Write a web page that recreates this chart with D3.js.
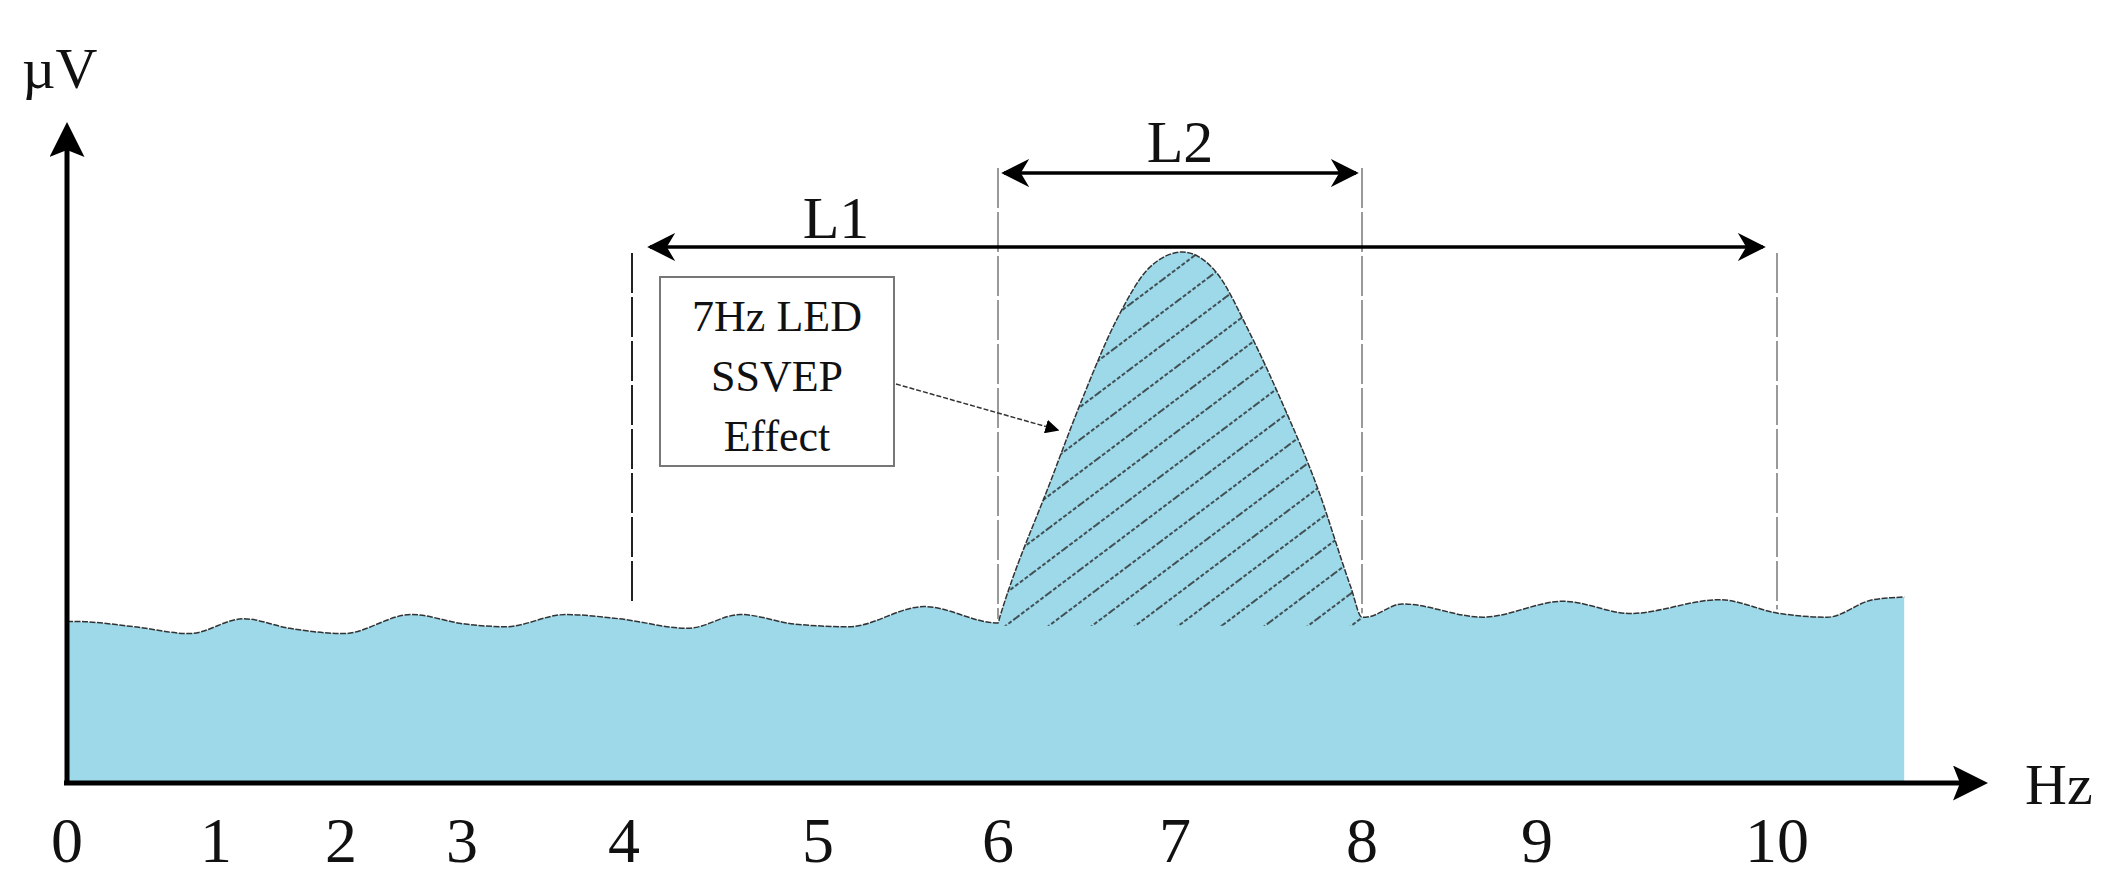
<!DOCTYPE html><html><head><meta charset="utf-8">
<script src="https://cdn.jsdelivr.net/npm/d3@7"></script>
<style>body{margin:0;background:#fff}text{font-family:"Liberation Serif","Times New Roman",serif;fill:#111}</style>
</head><body><svg id="c" width="2114" height="896"></svg>
<script>
// Data
const tickLabels = [0,1,2,3,4,5,6,7,8,9,10];
const tickPixels = [67,216,341,462,624,818,998,1175,1362,1537,1777]; // layout of the drawn (non-uniform) axis
const baseHz  = [0,0.05,0.45,0.82,1.22,1.59,2.02,2.58,3.02,3.27,3.64,3.97,4.33,4.60,4.88,5.17,5.59,6.0];
const baseUv  = [3.03,3.03,2.93,2.80,3.08,2.90,2.80,3.16,2.98,2.93,3.16,3.08,2.90,3.16,2.98,2.93,3.31,3.00];
const peakHz  = [6.0,6.01,6.30,6.48,6.67,6.86,7.04,7.22,7.40,7.58,7.76,7.94,8.0];
const peakUv  = [3.00,3.11,5.70,7.26,8.72,9.72,10.0,9.62,8.47,7.10,5.57,3.68,3.11];
const tailHz  = [8.0,8.02,8.23,8.69,9.11,9.39,9.76,10.01,10.21,10.40,10.53];
const tailUv  = [3.11,3.11,3.36,3.11,3.41,3.18,3.44,3.18,3.11,3.44,3.49];
const markers = [4,6,8,10];
const annotation = ["7Hz LED","SSVEP","Effect"];

const svg = d3.select("#c");
const x = d3.scaleLinear().domain(tickLabels).range(tickPixels);
const y = d3.scaleLinear().domain([0,10]).range([782,252]);
const toPts = (h,u)=>h.map((d,i)=>({h:d,u:u[i]}));
const all = toPts(baseHz,baseUv).concat(toPts(peakHz,peakUv).slice(1), toPts(tailHz,tailUv).slice(1));

const defs = svg.append("defs");
const pat = defs.append("pattern").attr("id","hatch").attr("patternUnits","userSpaceOnUse")
  .attr("width",40).attr("height",26).attr("patternTransform","rotate(-37)");
pat.append("line").attr("x1",0).attr("x2",40).attr("y1",13).attr("y2",13).attr("stroke","#222").attr("stroke-width",1.3).attr("stroke-dasharray","4,2");

const curve = d3.curveMonotoneX;
const area = d3.area().x(d=>x(d.h)).y0(y(0)).y1(d=>y(d.u)).curve(curve);
const line = d3.line().x(d=>x(d.h)).y(d=>y(d.u)).curve(curve);
svg.append("path").datum(all).attr("d",area).attr("fill","#9ed9ea");
const peak = toPts(peakHz,peakUv);
svg.append("path").datum(peak).attr("d",d3.area().x(d=>x(d.h)).y0(y(2.95)).y1(d=>y(d.u)).curve(curve))
  .attr("fill","url(#hatch)");
svg.append("path").datum(all).attr("d",line).attr("fill","none").attr("stroke","#333").attr("stroke-width",1.5).attr("stroke-dasharray","6,1.5");

// marker lines
const mtop = {4:253,6:168,8:168,10:253};
markers.forEach(m=>{
  const yl = all.reduce((a,b)=>Math.abs(b.h-m)<Math.abs(a.h-m)?b:a);
  svg.append("line").attr("x1",x(m)+(m===4?8:0)).attr("x2",x(m)+(m===4?8:0)).attr("y1",mtop[m]).attr("y2",y(yl.u)-(m===4?14:4))
    .attr("stroke",m===4?"#222":"#999").attr("stroke-width",2).attr("stroke-dasharray","40,4");
});

defs.append("marker").attr("id","ah").attr("viewBox","0 0 10 10").attr("refX",9).attr("refY",5)
  .attr("markerWidth",8).attr("markerHeight",8).attr("orient","auto-start-reverse")
  .append("path").attr("d","M0,0 L10,5 L0,10 L3,5 Z").attr("fill","#000");
defs.append("marker").attr("id","big").attr("viewBox","0 0 10 10").attr("refX",2).attr("refY",5)
  .attr("markerWidth",7).attr("markerHeight",7).attr("orient","auto").attr("markerUnits","strokeWidth")
  .append("path").attr("d","M0,0 L10,5 L0,10 L2,5 Z").attr("fill","#000");
defs.append("marker").attr("id","sm").attr("viewBox","0 0 10 10").attr("refX",9).attr("refY",5)
  .attr("markerWidth",14).attr("markerHeight",14).attr("markerUnits","userSpaceOnUse").attr("orient","auto")
  .append("path").attr("d","M0,0 L10,5 L0,10 Z").attr("fill","#000");

// L2, L1
svg.append("line").attr("x1",x(6)+6).attr("x2",x(8)-6).attr("y1",173).attr("y2",173)
  .attr("stroke","#000").attr("stroke-width",3.5).attr("marker-start","url(#ah)").attr("marker-end","url(#ah)");
svg.append("text").attr("x",1180).attr("y",162).attr("text-anchor","middle").attr("font-size",60).text("L2");
svg.append("line").attr("x1",x(4)+26).attr("x2",x(10)-14).attr("y1",247).attr("y2",247)
  .attr("stroke","#000").attr("stroke-width",3.5).attr("marker-start","url(#ah)").attr("marker-end","url(#ah)");
svg.append("text").attr("x",836).attr("y",238).attr("text-anchor","middle").attr("font-size",60).text("L1");

// annotation
svg.append("rect").attr("x",660).attr("y",277).attr("width",234).attr("height",189).attr("fill","#fff").attr("stroke","#777").attr("stroke-width",2);
annotation.forEach((t,i)=>svg.append("text").attr("x",777).attr("y",331+i*60).attr("text-anchor","middle").attr("font-size",44).text(t));
svg.append("line").attr("x1",896).attr("y1",384).attr("x2",1058).attr("y2",430).attr("stroke","#333").attr("stroke-width",1.5)
  .attr("stroke-dasharray","5,2").attr("marker-end","url(#sm)");

// axes
svg.append("line").attr("x1",67).attr("x2",67).attr("y1",785).attr("y2",150).attr("stroke","#000").attr("stroke-width",5).attr("marker-end","url(#big)");
svg.append("line").attr("x1",64).attr("x2",1960).attr("y1",783).attr("y2",783).attr("stroke","#000").attr("stroke-width",5).attr("marker-end","url(#big)");
svg.append("text").attr("x",22).attr("y",88).attr("font-size",58).text("µV");
svg.append("text").attr("x",2025).attr("y",804).attr("font-size",58).text("Hz");
svg.selectAll(".tl").data(tickLabels).join("text").attr("class","tl").attr("x",d=>x(d)).attr("y",862)
  .attr("text-anchor","middle").attr("font-size",64).text(d=>d);
</script></body></html>
